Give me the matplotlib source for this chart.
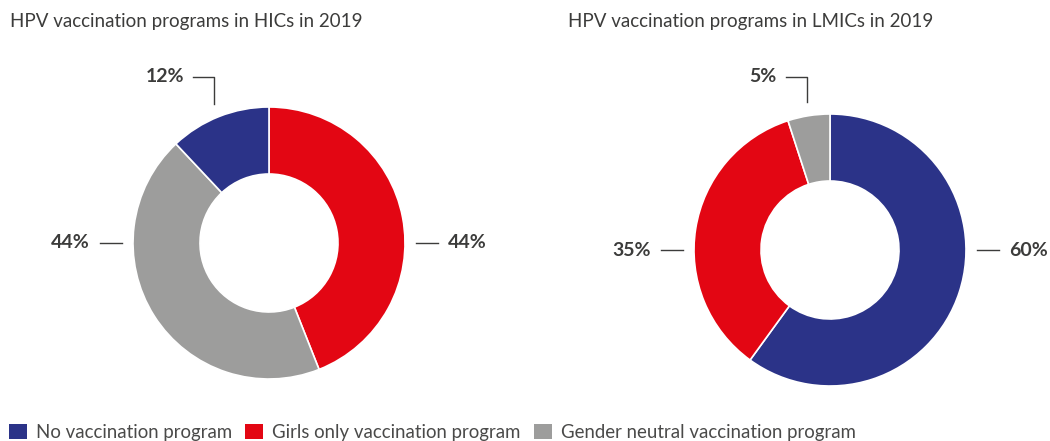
import numpy as np
import matplotlib
matplotlib.use("Agg")
import matplotlib.pyplot as plt
from matplotlib.patches import Patch

# data
categories = ["No vaccination program", "Girls only vaccination program", "Gender neutral vaccination program"]
colors = {"No vaccination program": "#2B3388",
          "Girls only vaccination program": "#E30613",
          "Gender neutral vaccination program": "#9D9D9C"}

hic_order = ["Girls only vaccination program", "Gender neutral vaccination program", "No vaccination program"]
hic_values = [44, 44, 12]
lmic_order = ["No vaccination program", "Girls only vaccination program", "Gender neutral vaccination program"]
lmic_values = [60, 35, 5]

titles = ["HPV vaccination programs in HICs in 2019", "HPV vaccination programs in LMICs in 2019"]

W, H = 1050, 441
TXT = "#3C3C3B"
plt.rcParams['font.family'] = ['Lato', 'DejaVu Sans']

fig = plt.figure(figsize=(W / 100, H / 100), dpi=100)
ax = fig.add_axes([0, 0, 1, 1])


def donut(cx, cy, order, values, title, title_x):
    cy = H - cy
    R = 136
    ax.pie(values, colors=[colors[c] for c in order], center=(cx, cy), radius=R,
           startangle=90, counterclock=False, frame=True,
           wedgeprops=dict(width=67, edgecolor="white", linewidth=1.2))
    ax.text(title_x, H - 22, title, fontsize=13.5, color=TXT, va="center", ha="left")
    # labels with leader lines
    start = 90.0
    for v in values:
        span = v / sum(values) * 360
        mid = np.radians(start - span / 2)
        start -= span
        lab = f"{v}%"
        c, s = np.cos(mid), np.sin(mid)
        if s > 0.85:
            # elbow leader for small top wedges
            x0, y0 = cx + 150 * c, cy + 150 * s
            ytop = H - 77
            ax.plot([x0, x0, x0 - 21], [y0, ytop, ytop], color=TXT, lw=1)
            ax.text(x0 - 30, ytop, lab, fontsize=14, fontweight="bold", color=TXT,
                    ha="right", va="center")
        else:
            side = 1 if c > 0 else -1
            ax.plot([cx + side * 147, cx + side * 169], [cy, cy], color=TXT, lw=1)
            ax.text(cx + side * 179, cy, lab, fontsize=14, fontweight="bold", color=TXT,
                    ha="left" if side > 0 else "right", va="center")


donut(269, 243, hic_order, hic_values, titles[0], 10)
donut(830, 250, lmic_order, lmic_values, titles[1], 568)
ax.set_xlim(0, W)
ax.set_ylim(0, H)
ax.set_aspect("auto")
ax.axis("off")

handles = [Patch(facecolor=colors[c], edgecolor="none", label=c) for c in categories]
fig.legend(handles=handles, loc="lower left", bbox_to_anchor=(9 / W, 0.0), ncol=3,
           frameon=False, fontsize=13.4, handlelength=0.97, handleheight=0.92,
           handletextpad=0.48, columnspacing=0.7, labelcolor="#4A4A49",
           borderpad=0, borderaxespad=0)

fig.savefig("out.png", dpi=100)
